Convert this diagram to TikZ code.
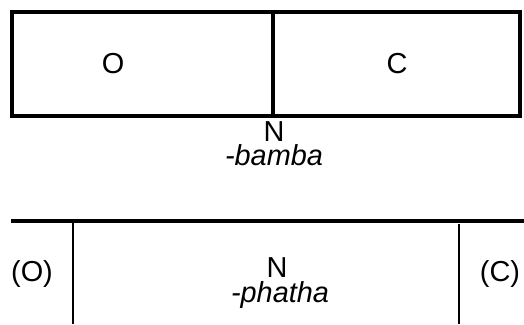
\documentclass[tikz,border=0pt]{standalone}
\usepackage{fontspec}
\setmainfont{Liberation Sans}
\begin{document}
\begin{tikzpicture}[x=1bp,y=-1bp,
  lbl/.style={anchor=base,inner sep=0pt,font=\fontsize{29}{30}\selectfont},
  ilbl/.style={lbl,font=\fontsize{29}{30}\selectfont\itshape},
  thick line/.style={line width=4bp},
  thin line/.style={line width=1.8bp}]
\useasboundingbox (0,0) rectangle (524,324);
% top box
\draw[thick line] (11.5,12) rectangle (520,116);
\draw[thick line] (273,12) -- (273,116);
\node[lbl] (o) at (113,73) {O};
\node[lbl] (c) at (397,73) {C};
\node[lbl] (n1) at (274,141) {N};
\node[ilbl] (b) at (274,165) {-bamba};
% bottom
\draw[line width=4.5bp] (11,221) -- (524,221);
\draw[thin line] (73,221) -- (73,324);
\draw[thin line] (459,224) -- (459,324);
\node[lbl] (o2) at (32,281) {(O)};
\node[lbl] (c2) at (500,281) {(C)};
\node[lbl] (n2) at (277,277) {N};
\node[ilbl] (p) at (280,302) {-phatha};
\end{tikzpicture}
\end{document}
